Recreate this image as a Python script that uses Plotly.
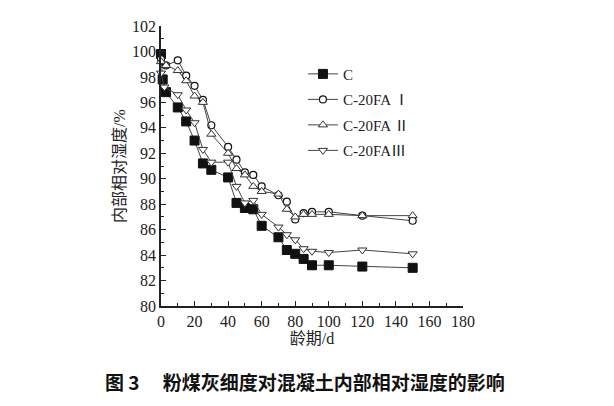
import plotly.graph_objects as go

# ---- data ----
days_c = [0, 1, 3, 10, 15, 20, 25, 30, 40, 45, 50, 55, 60, 70, 75, 80, 85, 90, 100, 120, 150]
rh_c = [99.8, 97.8, 96.8, 95.6, 94.5, 93.0, 91.2, 90.7, 90.1, 88.1, 87.7, 87.6, 86.3, 85.4, 84.4, 84.1, 83.7, 83.2, 83.2, 83.1, 83.0]

days_1 = [0, 3, 10, 15, 20, 25, 30, 40, 45, 50, 55, 60, 70, 75, 80, 85, 90, 100, 120, 150]
rh_1 = [99.4, 98.9, 99.3, 98.1, 97.3, 96.2, 94.2, 92.5, 91.5, 90.5, 90.3, 89.4, 88.7, 88.2, 86.8, 87.3, 87.4, 87.4, 87.1, 86.7]

days_2 = [0, 3, 10, 15, 20, 25, 30, 40, 45, 50, 55, 60, 70, 75, 80, 85, 90, 100, 120, 150]
rh_2 = [99.2, 98.9, 98.5, 97.7, 96.5, 96.0, 93.5, 92.0, 90.8, 90.3, 89.4, 89.0, 88.8, 87.6, 87.0, 87.2, 87.2, 87.2, 87.1, 87.1]

days_3 = [0, 2, 10, 15, 20, 25, 30, 40, 45, 50, 55, 60, 70, 75, 80, 85, 90, 100, 120, 150]
rh_3 = [98.3, 97.2, 96.6, 95.4, 94.4, 92.3, 91.3, 91.3, 89.4, 88.1, 88.3, 87.2, 86.2, 85.6, 85.2, 84.5, 84.3, 84.2, 84.4, 84.1]

names = ["C", "C-20FA Ⅰ", "C-20FA Ⅱ", "C-20FAⅢ"]

x_ticks = [0, 20, 40, 60, 80, 100, 120, 140, 160, 180]
y_ticks = [80, 82, 84, 86, 88, 90, 92, 94, 96, 98, 100, 102]

x_title = "龄期/d"
y_title = "内部相对湿度/%"
caption = "图 3　 粉煤灰细度对混凝土内部相对湿度的影响"

serif = "Liberation Serif, Noto Sans CJK SC, serif"
line_col = "#444444"

fig = go.Figure()
series = [
    (days_c, rh_c, dict(symbol="square", size=9, color="#111111", line=dict(color="#111111", width=1))),
    (days_1, rh_1, dict(symbol="circle", size=7, color="white", line=dict(color="#111111", width=1.2))),
    (days_2, rh_2, dict(symbol="triangle-up", size=8, color="white", line=dict(color="#333333", width=1))),
    (days_3, rh_3, dict(symbol="triangle-down", size=8, color="white", line=dict(color="#333333", width=1))),
]
for i, (xs, ys, mk) in enumerate(series):
    fig.add_trace(go.Scatter(
        x=xs, y=ys, mode="lines+markers", name=names[i],
        line=dict(color=line_col, width=1), marker=mk, cliponaxis=False,
        legendgroup=str(i),
    ))

fig.update_layout(
    width=614, height=406,
    margin=dict(l=161, r=151, t=26, b=100),
    paper_bgcolor="white", plot_bgcolor="white",
    font=dict(family=serif, size=16, color="#222222"),
    showlegend=True,
    legend=dict(x=0.47, y=0.887, xanchor="left", yanchor="top",
                bgcolor="rgba(0,0,0,0)", font=dict(family=serif, size=15, color="#222222"),
                tracegroupgap=3, itemwidth=30),
)
fig.update_xaxes(
    range=[0, 180], tickvals=x_ticks, ticktext=[str(v) for v in x_ticks],
    showline=True, linecolor="#222222", linewidth=1.5, showgrid=False, zeroline=False,
    ticks="inside", ticklen=5, tickcolor="#222222",
    minor=dict(dtick=10, ticks="inside", ticklen=3, tickcolor="#222222"),
    title=dict(text=x_title, standoff=2, font=dict(family=serif, size=16)),
)
fig.update_yaxes(
    range=[80, 102], tickvals=y_ticks, ticktext=[str(v) for v in y_ticks],
    showline=True, linecolor="#222222", linewidth=1.5, showgrid=False, zeroline=False,
    ticks="inside", ticklen=5, tickcolor="#222222",
    minor=dict(dtick=1, ticks="inside", ticklen=3, tickcolor="#222222"),
    title=dict(text=y_title, standoff=2, font=dict(family=serif, size=16)),
)
fig.add_annotation(
    text="<b>" + caption + "</b>", xref="paper", yref="paper", x=0.478, y=-0.271,
    xanchor="center", yanchor="middle", showarrow=False,
    font=dict(family="Noto Sans CJK SC, sans-serif", size=19, color="#111111"),
)
fig.write_html("out.html")
